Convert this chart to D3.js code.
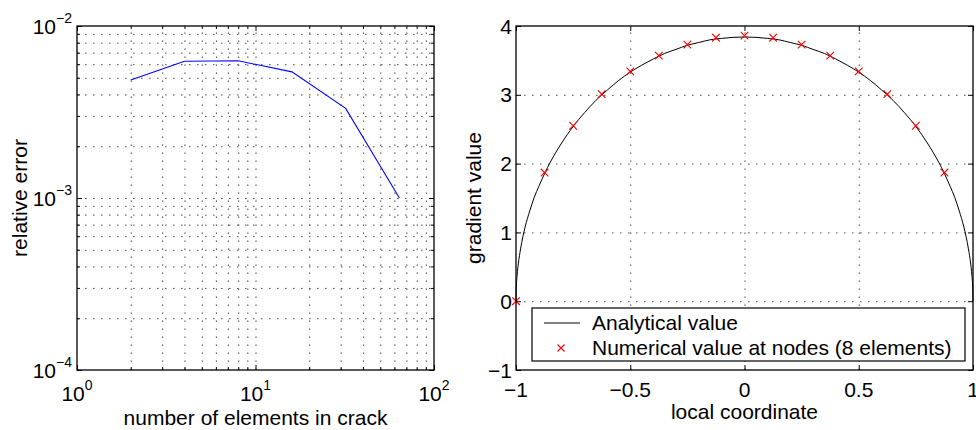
<!DOCTYPE html>
<html>
<head>
<meta charset="utf-8">
<script src="https://cdn.jsdelivr.net/npm/d3@7/dist/d3.min.js"></script>
<style>
  html, body { margin: 0; padding: 0; background: #fff; }
  svg { display: block; }
  text { font-family: "Liberation Sans", Arial, Helvetica, sans-serif; fill: #000; }
</style>
</head>
<body>
<svg id="chart" width="976" height="430"></svg>
<script>
// ---------- Data ----------
// Left panel: relative error vs number of elements in crack (log-log)
const elemCounts = [2, 4, 8, 16, 32, 64];
const relError = [4.85e-3, 6.24e-3, 6.28e-3, 5.41e-3, 3.32e-3, 1.0e-3];
const leftXTicks = [1, 10, 100];
const leftXTickExp = ["0", "1", "2"];
const leftYTicks = [1e-4, 1e-3, 1e-2];
const leftYTickExp = ["\u22124", "\u22123", "\u22122"];

// Right panel: gradient value vs local coordinate
const analyticX = [-1, -0.999, -0.995, -0.99, -0.98, -0.96, -0.94, -0.92, -0.9, -0.85, -0.8, -0.75, -0.7, -0.65, -0.6, -0.55, -0.5, -0.45, -0.4, -0.35, -0.3, -0.25, -0.2, -0.15, -0.1, -0.05, 0,
                   0.05, 0.1, 0.15, 0.2, 0.25, 0.3, 0.35, 0.4, 0.45, 0.5, 0.55, 0.6, 0.65, 0.7, 0.75, 0.8, 0.85, 0.9, 0.92, 0.94, 0.96, 0.98, 0.99, 0.995, 0.999, 1];
const analyticY = [0, 0.17, 0.38, 0.54, 0.76, 1.08, 1.31, 1.51, 1.67, 2.02, 2.30, 2.54, 2.74, 2.92, 3.07, 3.21, 3.33, 3.43, 3.52, 3.60, 3.66, 3.72, 3.76, 3.80, 3.82, 3.835, 3.84,
                   3.835, 3.82, 3.80, 3.76, 3.72, 3.66, 3.60, 3.52, 3.43, 3.33, 3.21, 3.07, 2.92, 2.74, 2.54, 2.30, 2.02, 1.67, 1.51, 1.31, 1.08, 0.76, 0.54, 0.38, 0.17, 0];
const nodeX = [-1, -0.875, -0.75, -0.625, -0.5, -0.375, -0.25, -0.125, 0, 0.125, 0.25, 0.375, 0.5, 0.625, 0.75, 0.875];
const nodeY = [0, 1.87, 2.55, 3.01, 3.34, 3.57, 3.73, 3.83, 3.86, 3.83, 3.73, 3.57, 3.34, 3.01, 2.55, 1.87];
const rightXTicks = [-1, -0.5, 0, 0.5, 1];
const rightXTickLabels = ["\u22121", "\u22120.5", "0", "0.5", "1"];
const rightYTicks = [-1, 0, 1, 2, 3, 4];
const rightYTickLabels = ["\u22121", "0", "1", "2", "3", "4"];
const legendLabels = ["Analytical value", "Numerical value at nodes (8 elements)"];

// ---------- Layout ----------
const svg = d3.select("#chart");
const FS = 21, SUP = 14;
const gridStyle = sel => sel.attr("stroke", "#555").attr("stroke-width", 1).attr("stroke-dasharray", "1.6,6.4");

function logMinors(lo, hi) {
  const out = [];
  for (let e = lo; e < hi; e++) for (let k = 1; k < 10; k++) out.push(k * Math.pow(10, e));
  out.push(Math.pow(10, hi));
  return out;
}

// ===== Left panel =====
const L = {x0: 77, x1: 434, y0: 26, y1: 370};
const lx = d3.scaleLog().domain([1, 100]).range([L.x0, L.x1]);
const ly = d3.scaleLog().domain([1e-4, 1e-2]).range([L.y1, L.y0]);
const lg = svg.append("g");

const lxAll = logMinors(0, 2);
const lyAll = logMinors(-4, -2);
// grid
lg.append("g").attr("transform", `translate(0,${L.y1})`)
  .call(d3.axisBottom(lx).tickValues(lxAll.filter(v => v > 1 && v < 100)).tickSize(-(L.y1 - L.y0)).tickFormat(""))
  .call(g => { g.select(".domain").remove(); gridStyle(g.selectAll(".tick line")); });
lg.append("g").attr("transform", `translate(${L.x0},0)`)
  .call(d3.axisLeft(ly).tickValues(lyAll.filter(v => v > 1e-4 && v < 1e-2)).tickSize(-(L.x1 - L.x0)).tickFormat(""))
  .call(g => { g.select(".domain").remove(); gridStyle(g.selectAll(".tick line")); });

// ticks (inward) on all sides
function tickAxis(g, axisFn, scale, vals, size, tr) {
  g.append("g").attr("transform", tr)
    .call(axisFn(scale).tickValues(vals).tickSize(size).tickFormat(""))
    .call(a => { a.select(".domain").remove(); a.selectAll(".tick line").attr("stroke", "#000").attr("stroke-width", 1); });
}
const lxMinor = lxAll.filter(v => !leftXTicks.includes(v));
const lyMinor = lyAll.filter(v => !leftYTicks.some(t => Math.abs(t - v) < 1e-12));
tickAxis(lg, d3.axisBottom, lx, leftXTicks, -5, `translate(0,${L.y1})`);
tickAxis(lg, d3.axisBottom, lx, lxMinor, -3, `translate(0,${L.y1})`);
tickAxis(lg, d3.axisTop, lx, leftXTicks, -5, `translate(0,${L.y0})`);
tickAxis(lg, d3.axisTop, lx, lxMinor, -3, `translate(0,${L.y0})`);
tickAxis(lg, d3.axisLeft, ly, leftYTicks, -5, `translate(${L.x0},0)`);
tickAxis(lg, d3.axisLeft, ly, lyMinor, -3, `translate(${L.x0},0)`);
tickAxis(lg, d3.axisRight, ly, leftYTicks, -5, `translate(${L.x1},0)`);
tickAxis(lg, d3.axisRight, ly, lyMinor, -3, `translate(${L.x1},0)`);

// data line
lg.append("path")
  .datum(elemCounts.map((d, i) => [d, relError[i]]))
  .attr("fill", "none").attr("stroke", "#0000ff").attr("stroke-width", 1.1)
  .attr("d", d3.line().x(d => lx(d[0])).y(d => ly(d[1])));

// frame
lg.append("rect").attr("x", L.x0).attr("y", L.y0).attr("width", L.x1 - L.x0).attr("height", L.y1 - L.y0)
  .attr("fill", "none").attr("stroke", "#000").attr("stroke-width", 1.3);

// tick labels with superscripts
leftXTicks.forEach((v, i) => {
  const t = lg.append("text").attr("x", lx(v)).attr("y", 401).attr("text-anchor", "middle").attr("font-size", FS);
  t.append("tspan").text("10");
  t.append("tspan").attr("font-size", SUP).attr("dy", -11).text(leftXTickExp[i]);
});
leftYTicks.forEach((v, i) => {
  const t = lg.append("text").attr("x", L.x0 - 5).attr("y", ly(v) + 8).attr("text-anchor", "end").attr("font-size", FS);
  t.append("tspan").text("10");
  t.append("tspan").attr("font-size", SUP).attr("dy", -11).text(leftYTickExp[i]);
});
lg.append("text").attr("x", (L.x0 + L.x1) / 2).attr("y", 425).attr("text-anchor", "middle").attr("font-size", FS)
  .text("number of elements in crack");
lg.append("text").attr("transform", `translate(27,${(L.y0 + L.y1) / 2}) rotate(-90)`).attr("text-anchor", "middle").attr("font-size", FS)
  .text("relative error");

// ===== Right panel =====
const R = {x0: 516, x1: 973, y0: 26, y1: 370};
const rx = d3.scaleLinear().domain([-1, 1]).range([R.x0, R.x1]);
const ry = d3.scaleLinear().domain([-1, 4]).range([R.y1, R.y0]);
const rg = svg.append("g");

rg.append("g").attr("transform", `translate(0,${R.y1})`)
  .call(d3.axisBottom(rx).tickValues(rightXTicks.slice(1, -1)).tickSize(-(R.y1 - R.y0)).tickFormat(""))
  .call(g => { g.select(".domain").remove(); gridStyle(g.selectAll(".tick line")); });
rg.append("g").attr("transform", `translate(${R.x0},0)`)
  .call(d3.axisLeft(ry).tickValues(rightYTicks.slice(1, -1)).tickSize(-(R.x1 - R.x0)).tickFormat(""))
  .call(g => { g.select(".domain").remove(); gridStyle(g.selectAll(".tick line")); });

tickAxis(rg, d3.axisBottom, rx, rightXTicks, -5, `translate(0,${R.y1})`);
tickAxis(rg, d3.axisTop, rx, rightXTicks, -5, `translate(0,${R.y0})`);
tickAxis(rg, d3.axisLeft, ry, rightYTicks, -5, `translate(${R.x0},0)`);
tickAxis(rg, d3.axisRight, ry, rightYTicks, -5, `translate(${R.x1},0)`);

// analytical curve
rg.append("path")
  .datum(analyticX.map((d, i) => [d, analyticY[i]]))
  .attr("fill", "none").attr("stroke", "#000").attr("stroke-width", 1)
  .attr("d", d3.line().x(d => rx(d[0])).y(d => ry(d[1])).curve(d3.curveMonotoneX));

// markers
const xMark = (g, cx, cy, s) => {
  g.append("path").attr("d", `M${cx - s},${cy - s}L${cx + s},${cy + s}M${cx - s},${cy + s}L${cx + s},${cy - s}`)
    .attr("stroke", "#ff0000").attr("stroke-width", 1.1).attr("fill", "none");
};
nodeX.forEach((v, i) => xMark(rg, rx(v), ry(nodeY[i]), 3.8));

// frame
rg.append("rect").attr("x", R.x0).attr("y", R.y0).attr("width", R.x1 - R.x0).attr("height", R.y1 - R.y0)
  .attr("fill", "none").attr("stroke", "#000").attr("stroke-width", 1.3);

// legend
const lgd = rg.append("g");
lgd.append("rect").attr("x", 532).attr("y", 308).attr("width", 433).attr("height", 53)
  .attr("fill", "#fff").attr("stroke", "#000").attr("stroke-width", 1.2);
lgd.append("line").attr("x1", 544).attr("x2", 580).attr("y1", 323).attr("y2", 323).attr("stroke", "#000").attr("stroke-width", 1);
lgd.append("text").attr("x", 592).attr("y", 330).attr("font-size", FS).text(legendLabels[0]);
xMark(lgd, 561, 348, 3.5);
lgd.append("text").attr("x", 592).attr("y", 355).attr("font-size", FS).text(legendLabels[1]);

// tick labels
rightXTicks.forEach((v, i) => {
  rg.append("text").attr("x", rx(v)).attr("y", 397).attr("text-anchor", "middle").attr("font-size", FS).text(rightXTickLabels[i]);
});
rightYTicks.forEach((v, i) => {
  rg.append("text").attr("x", R.x0 - 4).attr("y", ry(v) + 7.5).attr("text-anchor", "end").attr("font-size", FS).text(rightYTickLabels[i]);
});
rg.append("text").attr("x", (R.x0 + R.x1) / 2).attr("y", 419).attr("text-anchor", "middle").attr("font-size", FS)
  .text("local coordinate");
rg.append("text").attr("transform", `translate(481,${(R.y0 + R.y1) / 2}) rotate(-90)`).attr("text-anchor", "middle").attr("font-size", FS)
  .text("gradient value");
</script>
</body>
</html>
